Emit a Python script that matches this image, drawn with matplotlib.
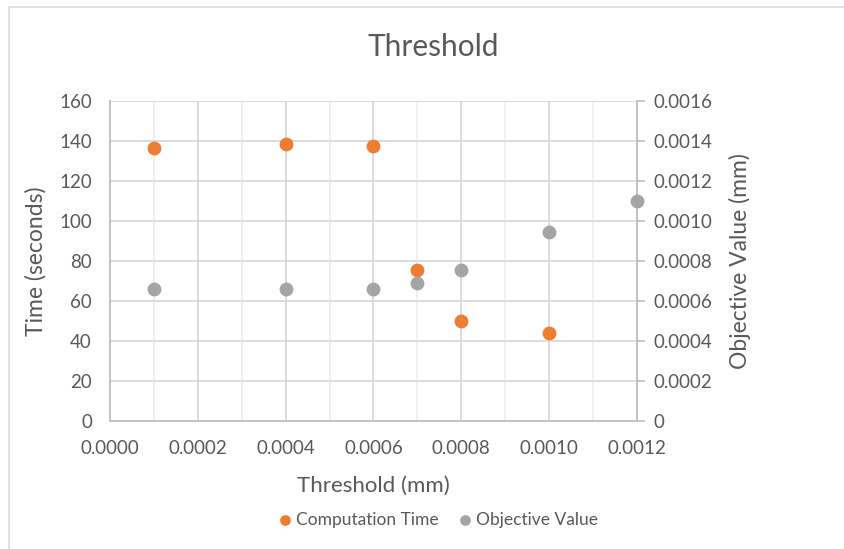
import matplotlib.pyplot as plt
from matplotlib.patches import Rectangle
from matplotlib.ticker import MultipleLocator, FormatStrFormatter

plt.rcParams['font.family'] = ['Lato', 'DejaVu Sans']

# computation time (left axis)
time_x = [0.0001, 0.0004, 0.0006, 0.0007, 0.0008, 0.0010]
time_s = [136.4, 138.3, 137.6, 75.4, 50.2, 43.8]

# objective value (right axis)
obj_x = [0.0001, 0.0004, 0.0006, 0.0007, 0.0008, 0.0010, 0.0012]
obj_mm = [0.000662, 0.000662, 0.000662, 0.000691, 0.000754, 0.000943, 0.00110]

TEXT = "#595959"
GRID = "#D9D9D9"
ORANGE = "#ED7D31"
GREY = "#A5A5A5"

fig = plt.figure(figsize=(8.45, 5.49), dpi=100)
fig.patches.append(Rectangle((9 / 845, -0.1), 2, 1.1 - 7 / 549, transform=fig.transFigure,
                             fill=False, edgecolor=GRID, linewidth=1.2))

ax = fig.add_axes([110 / 845, 1 - 421 / 549, 527 / 845, 320 / 549])
ax2 = ax.twinx()

ax.set_xlim(0, 0.0012)
ax.set_ylim(0, 160)
ax2.set_ylim(0, 0.0016)

ax.xaxis.set_major_locator(MultipleLocator(0.0002))
ax.xaxis.set_minor_locator(MultipleLocator(0.0001))
ax.xaxis.set_major_formatter(FormatStrFormatter('%.4f'))
ax.yaxis.set_major_locator(MultipleLocator(20))
ax2.yaxis.set_major_locator(MultipleLocator(0.0002))
ax2.yaxis.set_major_formatter(lambda v, p: '0' if v == 0 else f'{v:.4f}')

ax.grid(which='major', color=GRID, linewidth=1.3)
ax.grid(which='minor', axis='x', color='#EFEFEF', linewidth=1.3)
ax.set_axisbelow(True)

for a in (ax, ax2):
    for s in a.spines.values():
        s.set_visible(False)
ax.spines['left'].set_visible(True)
ax.spines['bottom'].set_visible(True)
ax2.spines['right'].set_visible(True)
for s in (ax.spines['left'], ax.spines['bottom'], ax2.spines['right']):
    s.set_color('#BFBFBF')
    s.set_linewidth(1.3)

ax.tick_params(axis='y', which='both', length=0, labelsize=13.5, labelcolor=TEXT, pad=13)
ax.tick_params(axis='x', which='both', length=0, labelsize=13.5, labelcolor=TEXT, pad=14)
ax2.tick_params(axis='y', length=6, color='#BFBFBF', width=1.3, labelsize=13.5,
                labelcolor=TEXT, pad=6)

ax.scatter(time_x, time_s, s=80, color=ORANGE, zorder=3, clip_on=False, label='Computation Time')
ax2.scatter(obj_x, obj_mm, s=80, color=GREY, zorder=3, clip_on=False, label='Objective Value')

ax.set_xlabel('Threshold (mm)', fontsize=16, color=TEXT, labelpad=13)
ax.set_ylabel('Time (seconds)', fontsize=16.5, color=TEXT, labelpad=9)
ax2.set_ylabel('Objective Value (mm)', fontsize=16.5, color=TEXT, labelpad=12)
fig.text(433 / 845, 1 - 47 / 549, 'Threshold', ha='center', va='center', fontsize=21.5, color=TEXT)

h1, l1 = ax.get_legend_handles_labels()
h2, l2 = ax2.get_legend_handles_labels()
fig.legend(h1 + h2, l1 + l2, loc='center', bbox_to_anchor=(438 / 845, 1 - 520 / 549),
           ncol=2, frameon=False, fontsize=12.5, labelcolor=TEXT, handletextpad=0.25,
           handlelength=0.8, columnspacing=1.1, markerscale=0.75)

fig.savefig('out.png', dpi=100)
